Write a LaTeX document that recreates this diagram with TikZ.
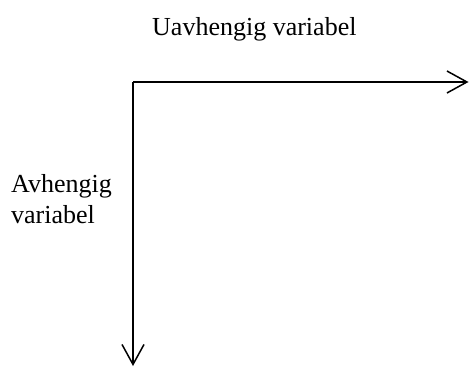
\documentclass[tikz,border=0pt]{standalone}
\usepackage{fontspec}
\setmainfont{Liberation Serif}
\usetikzlibrary{arrows.meta}
\begin{document}
\begin{tikzpicture}[x=1pt,y=-1pt,
  axis/.style={line width=1.5pt,-{Straight Barb[length=20pt,width=22pt,line width=1.5pt]}},
  lbl/.style={inner sep=0pt,font=\fontsize{26}{31}\selectfont}]
\useasboundingbox (0,0) rectangle (469,367);
\coordinate (o) at (133,82);
\coordinate (xe) at (468.5,82);
\coordinate (ye) at (133,366);
\draw[axis] (o) -- (xe);
\draw[axis] (o) -- (ye);
\node[lbl,anchor=base west] (ux) at (152,35) {Uavhengig variabel};
\node[lbl,anchor=north west,align=left] (ay) at (11,174) {Avhengig\\variabel};
\end{tikzpicture}
\end{document}
